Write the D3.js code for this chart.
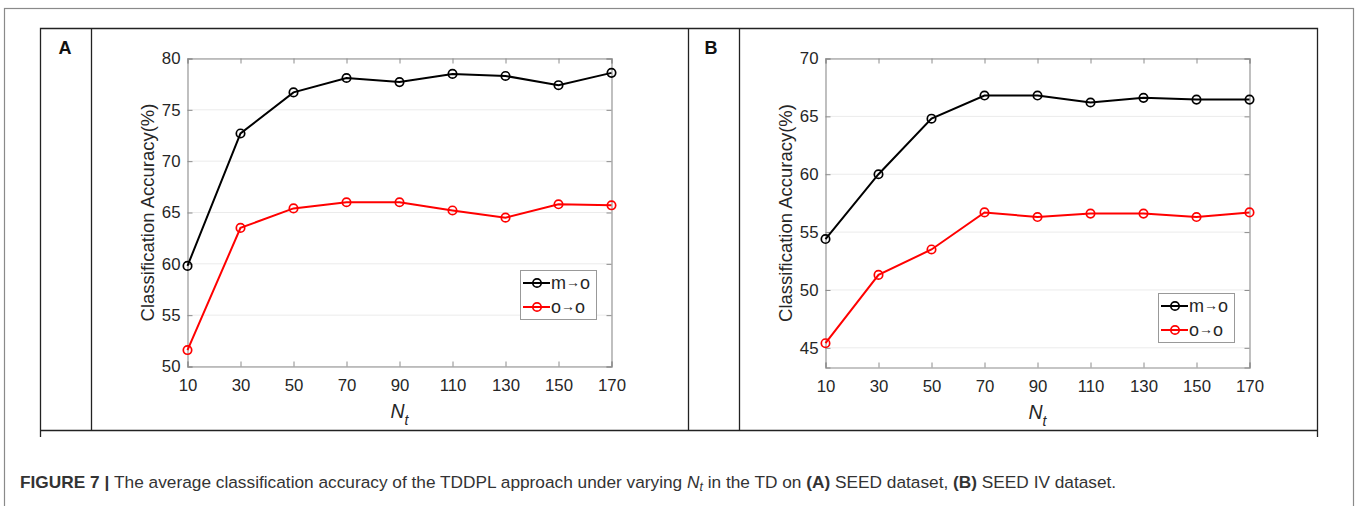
<!DOCTYPE html>
<html>
<head>
<meta charset="utf-8">
<script src="https://cdn.jsdelivr.net/npm/d3@7"></script>
<style>
  html, body { margin: 0; padding: 0; background: #fff; }
  svg { display: block; font-family: "Liberation Sans", Arial, sans-serif; }
</style>
</head>
<body>
<svg id="fig" width="1359" height="506"></svg>
<script>
// Number of target-domain samples N_t
const nt = [10, 30, 50, 70, 90, 110, 130, 150, 170];

// (A) SEED dataset
const seedMO = [59.8, 72.7, 76.7, 78.1, 77.7, 78.5, 78.3, 77.4, 78.6];
const seedOO = [51.6, 63.5, 65.4, 66.0, 66.0, 65.2, 64.5, 65.8, 65.7];

// (B) SEED IV dataset
const seed4MO = [54.4, 60.0, 64.8, 66.8, 66.8, 66.2, 66.6, 66.45, 66.45];
const seed4OO = [45.4, 51.3, 53.5, 56.7, 56.3, 56.6, 56.6, 56.3, 56.7];

const xTicks = [10, 30, 50, 70, 90, 110, 130, 150, 170];
const yTicksA = [50, 55, 60, 65, 70, 75, 80];
const yTicksB = [45, 50, 55, 60, 65, 70];
const seriesNames = ["m", "o"];

const svg = d3.select("#fig");

// Outer page frame
svg.append("rect")
  .attr("x", 4.5).attr("y", 8.5).attr("width", 1349).attr("height", 520)
  .attr("fill", "none").attr("stroke", "#8a8a8a").attr("stroke-width", 1.2);

// Panel table frame
const frame = svg.append("g").attr("stroke", "#222").attr("stroke-width", 1.3).attr("fill", "none");
frame.append("path").attr("d", "M40.5,437 V28.5 H1317.5 V437");
frame.append("line").attr("x1", 40).attr("x2", 1318).attr("y1", 430.5).attr("y2", 430.5);
[91.5, 688.5, 739.5].forEach(x =>
  frame.append("line").attr("x1", x).attr("x2", x).attr("y1", 28.5).attr("y2", 430.5));

svg.append("text").attr("x", 65).attr("y", 54).attr("text-anchor", "middle")
  .attr("font-size", 18).attr("font-weight", "bold").attr("fill", "#111").text("A");
svg.append("text").attr("x", 711).attr("y", 54).attr("text-anchor", "middle")
  .attr("font-size", 18).attr("font-weight", "bold").attr("fill", "#111").text("B");

function panel(cfg) {
  const x = d3.scaleLinear().domain([10, 170]).range([cfg.left, cfg.right]);
  const y = d3.scaleLinear().domain(cfg.yDomain).range([cfg.bottom, cfg.top]);
  const g = svg.append("g");

  // horizontal grid
  g.append("g").selectAll("line").data(cfg.yTicks).join("line")
    .attr("x1", cfg.left).attr("x2", cfg.right)
    .attr("y1", d => y(d)).attr("y2", d => y(d))
    .attr("stroke", "#ebebeb").attr("stroke-width", 1);

  // axes (box with inward ticks on all sides)
  const tk = 5;
  const axB = g.append("g").attr("transform", `translate(0,${cfg.bottom})`)
    .call(d3.axisBottom(x).tickValues(xTicks).tickSize(-tk).tickPadding(10));
  const axT = g.append("g").attr("transform", `translate(0,${cfg.top})`)
    .call(d3.axisTop(x).tickValues(xTicks).tickSize(-tk).tickFormat(""));
  const axL = g.append("g").attr("transform", `translate(${cfg.left},0)`)
    .call(d3.axisLeft(y).tickValues(cfg.yTicks).tickSize(-tk).tickPadding(7));
  const axR = g.append("g").attr("transform", `translate(${cfg.right},0)`)
    .call(d3.axisRight(y).tickValues(cfg.yTicks).tickSize(-tk).tickFormat(""));
  [axB, axT, axL, axR].forEach(a => {
    a.select(".domain").attr("stroke", "#8c8c8c").attr("stroke-width", 1.1);
    a.selectAll(".tick line").attr("stroke", "#8c8c8c");
    a.selectAll("text").attr("font-size", 16.8).attr("fill", "#262626")
      .attr("font-family", "Liberation Sans, Arial, sans-serif");
  });
  axB.selectAll("text").attr("dy", "0.85em");

  // axis titles
  g.append("text")
    .attr("transform", `translate(${cfg.left - 34},${(cfg.top + cfg.bottom) / 2}) rotate(-90)`)
    .attr("text-anchor", "middle").attr("font-size", 18.5).attr("fill", "#262626")
    .text("Classification Accuracy(%)");
  const xl = g.append("text").attr("x", (cfg.left + cfg.right) / 2).attr("y", cfg.bottom + 51)
    .attr("text-anchor", "middle").attr("font-size", 19.5).attr("fill", "#262626")
    .attr("font-style", "italic");
  xl.append("tspan").text("N");
  xl.append("tspan").attr("font-size", 14).attr("dy", 7).text("t");

  // series
  const line = d3.line().x((d, i) => x(nt[i])).y(d => y(d));
  cfg.series.forEach(s => {
    g.append("path").datum(s.values).attr("d", line)
      .attr("fill", "none").attr("stroke", s.color).attr("stroke-width", 2);
    g.append("g").selectAll("circle").data(s.values).join("circle")
      .attr("cx", (d, i) => x(nt[i])).attr("cy", d => y(d)).attr("r", 4.2)
      .attr("fill", "none").attr("stroke", s.color).attr("stroke-width", 1.7);
  });

  // legend
  const L = cfg.legend;
  g.append("rect").attr("x", L.x + 0.5).attr("y", L.y + 0.5).attr("width", 76).attr("height", 49)
    .attr("fill", "#fff").attr("stroke", "#999").attr("stroke-width", 1);
  cfg.series.forEach((s, i) => {
    const yy = L.y + 13 + i * 24;
    g.append("line").attr("x1", L.x + 3).attr("x2", L.x + 30).attr("y1", yy).attr("y2", yy)
      .attr("stroke", s.color).attr("stroke-width", 2);
    g.append("circle").attr("cx", L.x + 17).attr("cy", yy).attr("r", 4.2)
      .attr("fill", "none").attr("stroke", s.color).attr("stroke-width", 1.7);
    const t = g.append("text").attr("x", L.x + 31).attr("y", yy + 6)
      .attr("font-size", 18).attr("fill", "#262626");
    t.append("tspan").text(seriesNames[i]);
    t.append("tspan").attr("font-size", 14).attr("dy", -2).text("\u2192");
    t.append("tspan").attr("dy", 2).text("o");
  });
}

panel({
  left: 187.5, right: 611.5, top: 58.5, bottom: 366.5,
  yDomain: [50, 80], yTicks: yTicksA,
  legend: { x: 520, y: 270 },
  series: [{ values: seedMO, color: "#000" }, { values: seedOO, color: "#ff0000" }]
});
panel({
  left: 825.5, right: 1249.5, top: 58.5, bottom: 367.5,
  yDomain: [43.3, 70], yTicks: yTicksB,
  legend: { x: 1158, y: 293 },
  series: [{ values: seed4MO, color: "#000" }, { values: seed4OO, color: "#ff0000" }]
});

// Caption
const cap = svg.append("text").attr("x", 20).attr("y", 488).attr("font-size", 15.5).attr("fill", "#333");
cap.append("tspan").attr("font-weight", "bold").text("FIGURE 7 | ");
cap.append("tspan").text("The average classification accuracy of the TDDPL approach under varying ");
cap.append("tspan").attr("font-style", "italic").text("N");
cap.append("tspan").attr("font-style", "italic").attr("font-size", 11).attr("dy", 3).text("t");
cap.append("tspan").attr("dy", -3).text(" in the TD on ");
cap.append("tspan").attr("font-weight", "bold").text("(A)");
cap.append("tspan").text(" SEED dataset, ");
cap.append("tspan").attr("font-weight", "bold").text("(B)");
cap.append("tspan").text(" SEED IV dataset.");
// fit caption to its column width
const w = cap.node().getComputedTextLength();
cap.attr("font-size", 15.5 * 1097 / w);
cap.selectAll("tspan").each(function () {
  const fs = d3.select(this).attr("font-size");
  if (fs) d3.select(this).attr("font-size", fs * 1097 / w);
});
</script>
</body>
</html>
